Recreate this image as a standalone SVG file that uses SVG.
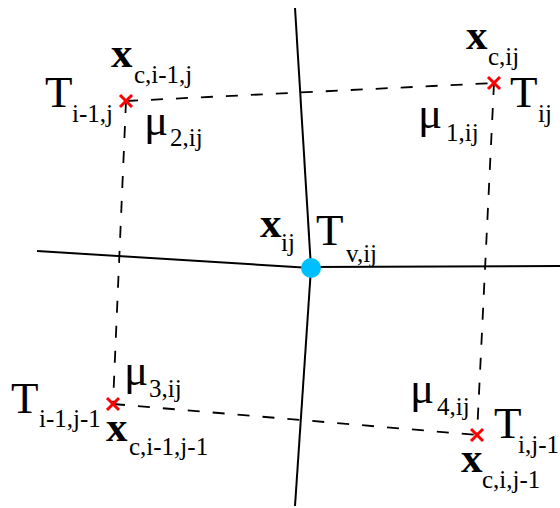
<svg xmlns="http://www.w3.org/2000/svg" width="560" height="508" viewBox="0 0 560 508">
<style>
.solid{stroke:#000;stroke-width:2;fill:none}
.dash{stroke:#000;stroke-width:1.8;fill:none;stroke-dasharray:12 13}
.cross{stroke:#ff0000;stroke-width:3}
.big{font-family:"Liberation Serif",serif;font-size:45px;fill:#000}
.bx{font-family:"Liberation Serif",serif;font-size:43px;font-weight:bold;fill:#000}
.sub{font-family:"Liberation Serif",serif;font-size:25px;fill:#000}
</style>
<defs>
<g id="x"><line class="cross" x1="-6" y1="-6" x2="6" y2="6"/><line class="cross" x1="-6" y1="6" x2="6" y2="-6"/></g>
</defs>
<g id="connectors">
<line class="solid" x1="295" y1="8" x2="311" y2="268"/>
<line class="solid" x1="311" y1="268" x2="295" y2="506"/>
<line class="solid" x1="37" y1="251" x2="311" y2="268"/>
<line class="solid" x1="311" y1="267" x2="560" y2="266"/>
<line class="dash" x1="126" y1="101" x2="494" y2="83"/>
<line class="dash" x1="126" y1="101" x2="113" y2="404"/>
<line class="dash" x1="113" y1="404" x2="477" y2="435"/>
<line class="dash" x1="494" y1="83" x2="477" y2="435"/>
</g>
<g id="node-center">
<circle cx="311" cy="268" r="10" fill="#00bfff"/>
<text class="bx" x="260" y="237">x</text><text class="sub" x="281" y="251">ij</text>
<text class="big" x="316" y="245">T</text><text class="sub" x="346" y="262">v,ij</text>
</g>
<g id="node-top-left">
<use href="#x" x="126" y="101"/>
<text class="bx" x="111" y="67">x</text><text class="sub" x="134" y="83">c,i-1,j</text>
<text class="big" x="45" y="107">T</text><text class="sub" x="72" y="122">i-1,j</text>
<text class="big" x="144" y="135">μ</text><text class="sub" x="170" y="146">2,ij</text>
</g>
<g id="node-top-right">
<use href="#x" x="494" y="83"/>
<text class="bx" x="466" y="49">x</text><text class="sub" x="488" y="65">c,ij</text>
<text class="big" x="510" y="107">T</text><text class="sub" x="538" y="122">ij</text>
<text class="big" x="418" y="128">μ</text><text class="sub" x="446" y="141">1,ij</text>
</g>
<g id="node-bottom-left">
<use href="#x" x="113" y="404"/>
<text class="big" x="11" y="413">T</text><text class="sub" x="39" y="427">i-1,j-1</text>
<text class="big" x="124" y="385">μ</text><text class="sub" x="149" y="397">3,ij</text>
<text class="bx" x="106" y="441">x</text><text class="sub" x="129" y="455">c,i-1,j-1</text>
</g>
<g id="node-bottom-right">
<use href="#x" x="477" y="435"/>
<text class="big" x="410" y="403">μ</text><text class="sub" x="437" y="415">4,ij</text>
<text class="big" x="494" y="438">T</text><text class="sub" x="518" y="453" font-size="24">i,j-1</text>
<text class="bx" x="461" y="472">x</text><text class="sub" x="482" y="488">c,i,j-1</text>
</g>
</svg>
